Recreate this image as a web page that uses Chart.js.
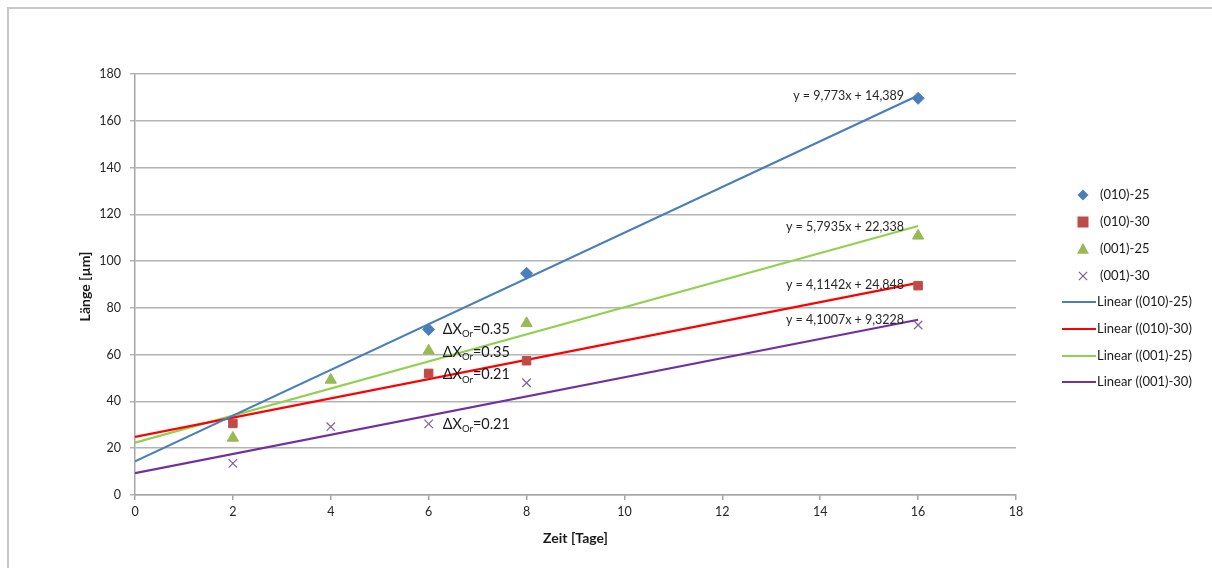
<!DOCTYPE html>
<html>
<head>
<meta charset="utf-8">
<script src="https://cdn.jsdelivr.net/npm/chart.js@4/dist/chart.umd.min.js"></script>
<style>
  html, body { margin: 0; padding: 0; background: #ffffff; }
  #wrap { width: 1212px; height: 568px; position: relative; }
</style>
</head>
<body>
<div id="wrap"><canvas id="c" width="1212" height="568"></canvas></div>
<script>
// ---- data ----
const xTicks = [0, 2, 4, 6, 8, 10, 12, 14, 16, 18];
const yTicks = [0, 20, 40, 60, 80, 100, 120, 140, 160, 180];

const seriesNames = ['(010)-25', '(010)-30', '(001)-25', '(001)-30'];

const days010_25 = [6, 8, 16];
const len010_25  = [70.8, 94.8, 169.6];

const days010_30 = [2, 6, 8, 16];
const len010_30  = [30.6, 52.0, 57.4, 89.5];

const days001_25 = [2, 4, 6, 8, 16];
const len001_25  = [24.4, 49.2, 61.7, 73.4, 110.8];

const days001_30 = [2, 4, 6, 8, 16];
const len001_30  = [13.5, 29.2, 30.4, 48.0, 72.7];

// Excel trend line coefficients (shown as labels in the chart)
const trendSlopes     = [9.773, 4.1142, 5.7935, 4.1007];
const trendIntercepts = [14.389, 24.848, 22.338, 9.3228];
const trendLabels = ['y = 9,773x + 14,389', 'y = 4,1142x + 24,848', 'y = 5,7935x + 22,338', 'y = 4,1007x + 9,3228'];
const trendRange = [0, 16];

const deltaLabels = ['=0.35', '=0.35', '=0.21', '=0.21'];

// ---- styles ----
const FONT = "Lato, 'Liberation Sans', sans-serif";
const markerColors = ['#4a7ebb', '#be4b48', '#98b954', '#7d60a0'];
const markerStyles = ['rectRot', 'rect', 'triangle', 'crossRot'];
const markerRadius = [6, 6, 6.5, 6];
const lineColors = ['#4a7ebb', '#ff0000', '#92d050', '#7030a0'];

function pts(xs, ys) { return xs.map((x, i) => ({ x: x, y: ys[i] })); }
const scatterData = [
  pts(days010_25, len010_25),
  pts(days010_30, len010_30),
  pts(days001_25, len001_25),
  pts(days001_30, len001_30)
];

const datasets = [];
scatterData.forEach((d, i) => {
  datasets.push({
    type: 'scatter',
    label: seriesNames[i],
    data: d,
    pointStyle: markerStyles[i],
    pointRadius: markerRadius[i],
    pointBackgroundColor: markerColors[i],
    pointBorderColor: markerColors[i],
    pointBorderWidth: i === 3 ? 1.2 : 1,
    showLine: false,
    order: 1
  });
});
trendSlopes.forEach((m, i) => {
  datasets.push({
    type: 'line',
    label: 'Linear (' + seriesNames[i] + ')',
    data: trendRange.map(x => ({ x: x, y: m * x + trendIntercepts[i] })),
    borderColor: lineColors[i],
    borderWidth: 2.2,
    pointRadius: 0,
    fill: false,
    order: 2
  });
});

function drawMarker(ctx, style, x, y, r) {
  ctx.save();
  ctx.beginPath();
  if (style === 'rectRot') {
    ctx.moveTo(x, y - r); ctx.lineTo(x + r, y); ctx.lineTo(x, y + r); ctx.lineTo(x - r, y); ctx.closePath();
    ctx.fill();
  } else if (style === 'rect') {
    ctx.rect(x - r, y - r, 2 * r, 2 * r); ctx.fill();
  } else if (style === 'triangle') {
    ctx.moveTo(x, y - r); ctx.lineTo(x + r, y + r * 0.8); ctx.lineTo(x - r, y + r * 0.8); ctx.closePath(); ctx.fill();
  } else {
    ctx.moveTo(x - r * 0.75, y - r * 0.75); ctx.lineTo(x + r * 0.75, y + r * 0.75);
    ctx.moveTo(x + r * 0.75, y - r * 0.75); ctx.lineTo(x - r * 0.75, y + r * 0.75);
    ctx.stroke();
  }
  ctx.restore();
}

const overlay = {
  id: 'overlay',
  afterDraw(chart) {
    const ctx = chart.ctx;
    const xs = chart.scales.x, ys = chart.scales.y;
    ctx.save();
    // outer frame
    ctx.strokeStyle = '#c8c8c8';
    ctx.lineWidth = 2;
    ctx.strokeRect(8, 8, 1240, 600);

    // axis titles
    ctx.fillStyle = '#1a1a1a';
    ctx.font = "bold 14px " + FONT;
    ctx.textAlign = 'center';
    ctx.textBaseline = 'middle';
    ctx.fillText('Zeit [Tage]', (chart.chartArea.left + chart.chartArea.right) / 2, 538);
    ctx.save();
    ctx.translate(85, (chart.chartArea.top + chart.chartArea.bottom) / 2 + 2);
    ctx.rotate(-Math.PI / 2);
    ctx.fillText('Länge [µm]', 0, 0);
    ctx.restore();

    // trend equations
    ctx.font = "12.5px " + FONT;
    ctx.fillStyle = '#262626';
    ctx.textAlign = 'right';
    const eqY = [170.5, 89.6, 114.8, 74.8];
    trendLabels.forEach((t, i) => {
      ctx.fillText(t, xs.getPixelForValue(16) - 14, ys.getPixelForValue(eqY[i]));
    });

    // delta labels
    const dY = [71.0, 61.2, 51.4, 30.2];
    ctx.textAlign = 'left';
    ctx.fillStyle = '#1a1a1a';
    dY.forEach((v, i) => {
      let x = xs.getPixelForValue(6) + 14;
      const y = ys.getPixelForValue(v);
      ctx.font = "14.5px " + FONT;
      ctx.fillText('ΔX', x, y);
      x += ctx.measureText('ΔX').width;
      ctx.font = "9.5px " + FONT;
      ctx.fillText('Or', x, y + 5);
      x += ctx.measureText('Or').width;
      ctx.font = "14.5px " + FONT;
      ctx.fillText(deltaLabels[i], x, y);
    });

    // legend
    const rowY = [195, 222, 249, 276, 302, 329, 356, 382];
    ctx.font = "13px " + FONT;
    ctx.textBaseline = 'middle';
    chart.data.datasets.forEach((ds, i) => {
      const y = rowY[i];
      if (ds.type === 'scatter') {
        ctx.fillStyle = ds.pointBackgroundColor;
        ctx.strokeStyle = ds.pointBorderColor;
        ctx.lineWidth = 1.3;
        drawMarker(ctx, ds.pointStyle, 1083, y, ds.pointRadius - 0.5);
        ctx.fillStyle = '#1a1a1a';
        ctx.fillText(ds.label, 1100, y);
      } else {
        ctx.strokeStyle = ds.borderColor;
        ctx.lineWidth = 2.2;
        ctx.beginPath();
        ctx.moveTo(1062, y);
        ctx.lineTo(1096, y);
        ctx.stroke();
        ctx.fillStyle = '#1a1a1a';
        ctx.fillText(ds.label, 1097, y);
      }
    });
    ctx.restore();
  }
};

const chart = new Chart(document.getElementById('c'), {
  type: 'scatter',
  data: { datasets: datasets },
  options: {
    responsive: false,
    animation: false,
    layout: { padding: { left: 0, right: 196, top: 74, bottom: 0 } },
    plugins: {
      legend: { display: false },
      tooltip: { enabled: false },
      title: { display: false }
    },
    scales: {
      x: {
        type: 'linear',
        min: 0, max: 18,
        afterBuildTicks(s) { s.ticks = xTicks.map(v => ({ value: v })); },
        afterFit(s) { s.height = 73; },
        grid: { drawOnChartArea: false, drawTicks: true, tickLength: 5, color: '#a6a6a6', lineWidth: 1.5 },
        border: { display: true, color: '#a6a6a6', width: 1.5 },
        ticks: { color: '#262626', font: { family: FONT, size: 12.5 }, padding: 4, maxRotation: 0 }
      },
      y: {
        type: 'linear',
        min: 0, max: 180,
        afterBuildTicks(s) { s.ticks = yTicks.map(v => ({ value: v })); },
        afterFit(s) { s.width = 135; },
        grid: { drawTicks: true, tickLength: 5, color: '#b4b4b4', lineWidth: 1.5 },
        border: { display: true, color: '#a6a6a6', width: 1.5 },
        ticks: { color: '#262626', font: { family: FONT, size: 12.5 }, padding: 9 }
      }
    }
  },
  plugins: [overlay]
});
</script>
</body>
</html>
